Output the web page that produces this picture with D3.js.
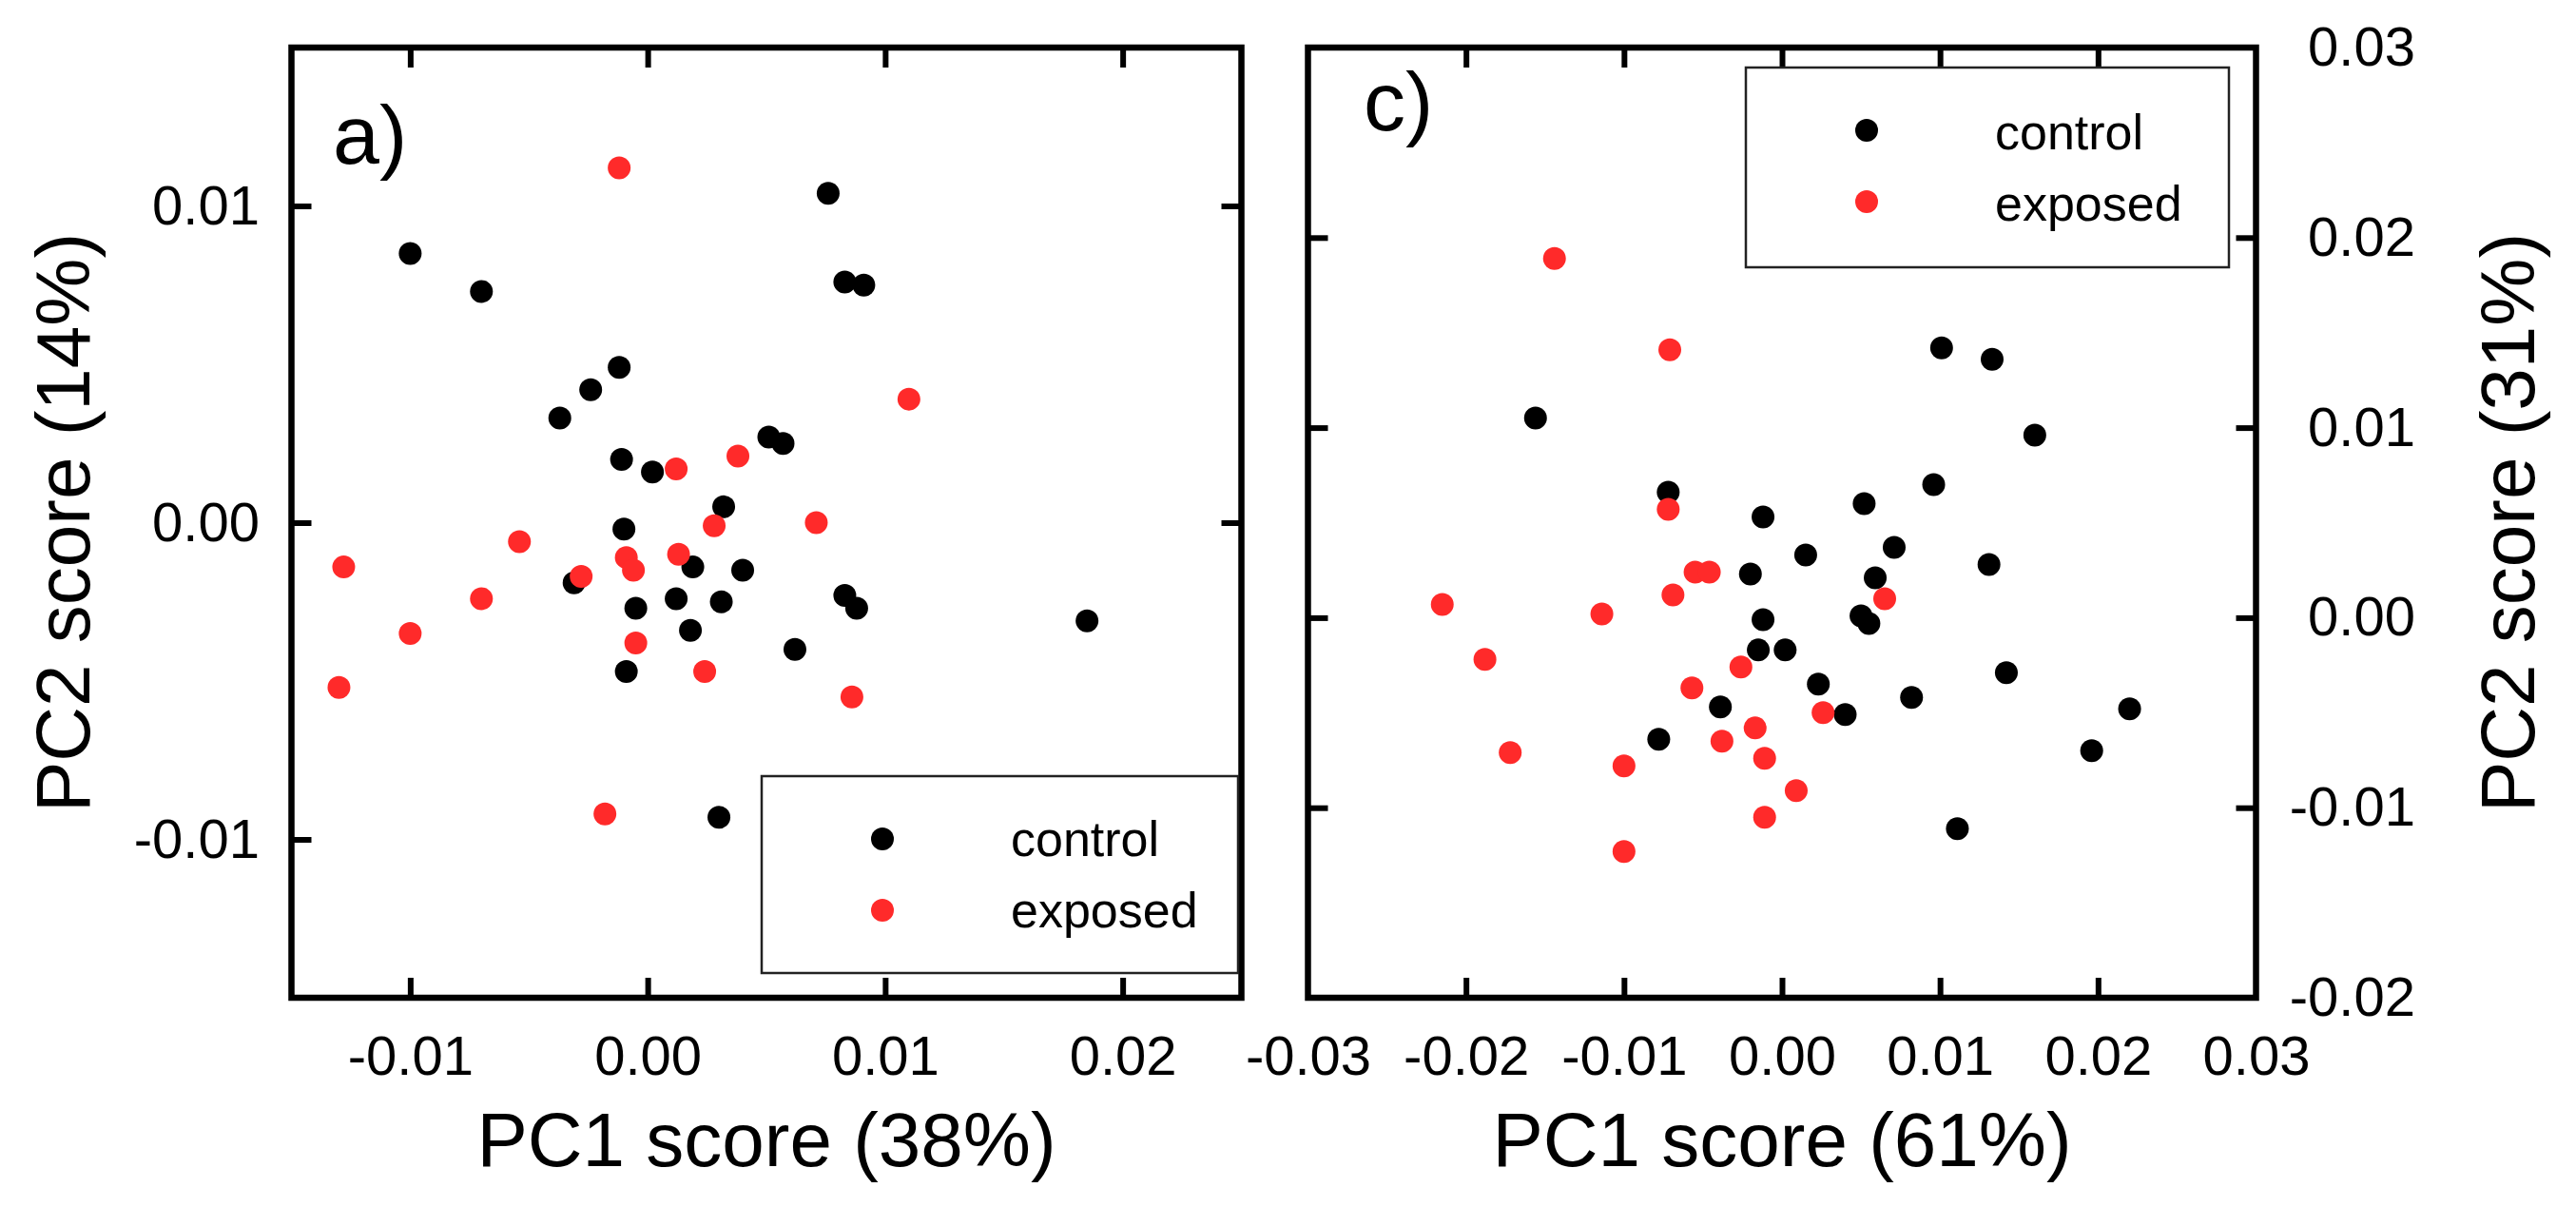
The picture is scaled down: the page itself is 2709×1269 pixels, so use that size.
<!DOCTYPE html>
<html>
<head>
<meta charset="utf-8">
<script src="https://cdn.jsdelivr.net/npm/d3@7"></script>
<style>
  html, body { margin: 0; padding: 0; background: #fff; }
  svg { display: block; }
  text { font-family: "Liberation Sans", Arial, sans-serif; fill: #000; }
</style>
</head>
<body>
<svg id="chart" width="2709" height="1269"></svg>
<script>
// ---------- DATA ----------
const seriesNames = ["control", "exposed"];
const seriesColors = ["#000000", "#ff2a2a"];

// Panel a) PC1 (38%) vs PC2 (14%)
const aControl = [
  [-0.0100, 0.0085], [-0.0070, 0.0073], [0.0076, 0.0104], [0.0083, 0.0076], [0.0091, 0.0075],
  [-0.0012, 0.0049], [-0.0024, 0.0042], [-0.0037, 0.0033], [0.0051, 0.0027], [0.0057, 0.0025],
  [-0.0011, 0.0020], [0.0002, 0.0016], [0.0032, 0.0005], [-0.0010, -0.0002], [-0.0031, -0.0019],
  [0.0019, -0.0014], [0.0040, -0.0015], [-0.0005, -0.0027], [0.0012, -0.0024], [0.0031, -0.0025],
  [0.0018, -0.0034], [0.0083, -0.0023], [0.0088, -0.0027], [0.0062, -0.0040], [-0.0009, -0.0047],
  [0.0185, -0.0031], [0.0030, -0.0093]
];
const aExposed = [
  [-0.0012, 0.0112], [0.0110, 0.0039], [0.0038, 0.0021], [0.0012, 0.0017], [0.0071, 0.0000],
  [0.0028, -0.0001], [-0.0054, -0.0006], [-0.0128, -0.0014], [-0.0009, -0.0011], [0.0013, -0.0010],
  [-0.0006, -0.0015], [-0.0028, -0.0017], [-0.0070, -0.0024], [-0.0100, -0.0035], [-0.0005, -0.0038],
  [0.0024, -0.0047], [0.0086, -0.0055], [-0.0130, -0.0052], [-0.0018, -0.0092]
];

// Panel c) PC1 (61%) vs PC2 (31%)
const cControl = [
  [-0.0156, 0.0105], [0.0101, 0.0142], [0.0133, 0.0136], [0.0160, 0.0096], [-0.0072, 0.0066],
  [0.0096, 0.0070], [0.0052, 0.0060], [-0.0012, 0.0053], [0.0071, 0.0037], [0.0015, 0.0033],
  [0.0131, 0.0028], [-0.0020, 0.0023], [0.0059, 0.0021], [-0.0012, -0.0001], [0.0050, 0.0001],
  [0.0055, -0.0003], [-0.0015, -0.0017], [0.0002, -0.0017], [0.0142, -0.0029], [0.0023, -0.0035],
  [0.0082, -0.0042], [-0.0039, -0.0047], [0.0040, -0.0051], [0.0220, -0.0048], [-0.0078, -0.0064],
  [0.0196, -0.0070], [0.0111, -0.0111]
];
const cExposed = [
  [-0.0144, 0.0189], [-0.0071, 0.0141], [-0.0072, 0.0057], [-0.0055, 0.0024], [-0.0046, 0.0024],
  [-0.0069, 0.0012], [-0.0215, 0.0007], [-0.0114, 0.0002], [0.0065, 0.0010], [-0.0188, -0.0022],
  [-0.0026, -0.0026], [-0.0057, -0.0037], [0.0026, -0.0050], [-0.0017, -0.0058], [-0.0038, -0.0065],
  [-0.0011, -0.0074], [-0.0172, -0.0071], [-0.0100, -0.0078], [0.0009, -0.0091], [-0.0011, -0.0105],
  [-0.0100, -0.0123]
];

// Axes: domains, ticks, labels
const aXDomain = [-0.015, 0.025];
const aYDomain = [-0.015, 0.015];
const aXTicks = [-0.01, 0.00, 0.01, 0.02];
const aYTicks = [-0.01, 0.00, 0.01];
const cXDomain = [-0.03, 0.03];
const cYDomain = [-0.02, 0.03];
const cXTicks = [-0.02, -0.01, 0.00, 0.01, 0.02];
const cXLabels = [-0.03, -0.02, -0.01, 0.00, 0.01, 0.02, 0.03];
const cYTicks = [-0.01, 0.00, 0.01, 0.02];
const cYLabels = [-0.02, -0.01, 0.00, 0.01, 0.02, 0.03];

const aXTitle = "PC1 score (38%)";
const aYTitle = "PC2 score (14%)";
const cXTitle = "PC1 score (61%)";
const cYTitle = "PC2 score (31%)";
const panelLabels = ["a)", "c)"];

// ---------- DRAW ----------
const svg = d3.select("#chart");
svg.append("rect").attr("width", 2709).attr("height", 1269).attr("fill", "#fff");

const f2 = d3.format(".2f");
const fmt = d => f2(d).replace("\u2212", "-");
const TICK = 21, FRAME = 6.5, TICKW = 6;
const tickFont = 58, titleFont = 80, legendFont = 52, panelFont = 88;

function panel(opts) {
  const x = d3.scaleLinear().domain(opts.xDomain).range([opts.left, opts.right]);
  const y = d3.scaleLinear().domain(opts.yDomain).range([opts.bottom, opts.top]);
  const g = svg.append("g");

  function styleAxis(sel) {
    sel.select(".domain").remove();
    sel.selectAll(".tick line").attr("stroke", "#000").attr("stroke-width", TICKW);
    sel.selectAll(".tick text").attr("font-size", tickFont).attr("fill", "#000")
      .style("font-family", '"Liberation Sans", Arial, sans-serif');
  }

  // bottom ticks (inward) + labels
  g.append("g").attr("transform", `translate(0,${opts.bottom})`)
    .call(d3.axisBottom(x).tickValues(opts.xTicks).tickSizeInner(-TICK).tickSizeOuter(0).tickFormat(""))
    .call(styleAxis);
  g.append("g").attr("transform", `translate(0,${opts.bottom})`)
    .call(d3.axisBottom(x).tickValues(opts.xLabels).tickSize(0).tickPadding(40).tickFormat(fmt))
    .call(styleAxis)
    .call(s => s.selectAll(".tick line").remove());
  // top ticks
  g.append("g").attr("transform", `translate(0,${opts.top})`)
    .call(d3.axisTop(x).tickValues(opts.xTicks).tickSizeInner(-TICK).tickSizeOuter(0).tickFormat(""))
    .call(styleAxis);
  // left ticks
  g.append("g").attr("transform", `translate(${opts.left},0)`)
    .call(d3.axisLeft(y).tickValues(opts.yTicks).tickSizeInner(-TICK).tickSizeOuter(0).tickFormat(""))
    .call(styleAxis);
  // right ticks
  g.append("g").attr("transform", `translate(${opts.right},0)`)
    .call(d3.axisRight(y).tickValues(opts.yTicks).tickSizeInner(-TICK).tickSizeOuter(0).tickFormat(""))
    .call(styleAxis);

  // y labels
  if (opts.yLabelSide === "left") {
    g.append("g").attr("transform", `translate(${opts.left},0)`)
      .call(d3.axisLeft(y).tickValues(opts.yLabels).tickSize(0).tickPadding(opts.left - opts.yLabelX).tickFormat(fmt))
      .call(styleAxis)
      .call(s => s.selectAll(".tick line").remove());
  } else {
    g.append("g").attr("transform", `translate(${opts.right},0)`)
      .call(d3.axisRight(y).tickValues(opts.yLabels).tickSize(0).tickFormat(fmt))
      .call(styleAxis)
      .call(s => s.selectAll(".tick line").remove())
      .call(s => s.selectAll(".tick text").attr("x", opts.yLabelX - opts.right).attr("text-anchor", "end"));
  }

  // frame
  g.append("rect")
    .attr("x", opts.left).attr("y", opts.top)
    .attr("width", opts.right - opts.left).attr("height", opts.bottom - opts.top)
    .attr("fill", "none").attr("stroke", "#000").attr("stroke-width", FRAME);

  // points
  opts.series.forEach((pts, i) => {
    g.append("g").selectAll("circle").data(pts).join("circle")
      .attr("cx", d => x(d[0])).attr("cy", d => y(d[1])).attr("r", 12)
      .attr("fill", seriesColors[i]);
  });

  // titles
  g.append("text").attr("x", (opts.left + opts.right) / 2).attr("y", 1226)
    .attr("text-anchor", "middle").attr("font-size", titleFont).text(opts.xTitle);
  g.append("text")
    .attr("transform", `translate(${opts.yTitleX},${(opts.top + opts.bottom) / 2}) rotate(-90)`)
    .attr("text-anchor", "middle").attr("font-size", titleFont).text(opts.yTitle);

  // panel label
  g.append("text").attr("x", opts.labelX).attr("y", opts.labelY)
    .attr("font-size", panelFont).text(opts.label);

  // legend
  const L = opts.legend;
  g.append("rect").attr("x", L.x).attr("y", L.y).attr("width", L.w).attr("height", L.h)
    .attr("fill", "#fff").attr("stroke", "#222").attr("stroke-width", 2.5);
  seriesNames.forEach((name, i) => {
    g.append("circle").attr("cx", L.x + 127).attr("cy", L.y + 66 + i * 75).attr("r", 12)
      .attr("fill", seriesColors[i]);
    g.append("text").attr("x", L.x + 262).attr("y", L.y + L.base + i * 75)
      .attr("font-size", legendFont).text(name);
  });
}

panel({
  left: 306.5, right: 1305.5, top: 50, bottom: 1049,
  xDomain: aXDomain, yDomain: aYDomain,
  xTicks: aXTicks, xLabels: aXTicks, yTicks: aYTicks, yLabels: aYTicks,
  yLabelSide: "left", yLabelX: 273,
  xTitle: aXTitle, yTitle: aYTitle, yTitleX: 94,
  series: [aControl, aExposed],
  label: panelLabels[0], labelX: 350, labelY: 172,
  legend: { x: 801, y: 816, w: 501, h: 207, base: 84 }
});

panel({
  left: 1375.5, right: 2372.5, top: 50, bottom: 1049,
  xDomain: cXDomain, yDomain: cYDomain,
  xTicks: cXTicks, xLabels: cXLabels, yTicks: cYTicks, yLabels: cYLabels,
  yLabelSide: "right", yLabelX: 2540,
  xTitle: cXTitle, yTitle: cYTitle, yTitleX: 2665,
  series: [cControl, cExposed],
  label: panelLabels[1], labelX: 1434, labelY: 137,
  legend: { x: 1836, y: 71, w: 508, h: 210, base: 86 }
});
</script>
</body>
</html>
